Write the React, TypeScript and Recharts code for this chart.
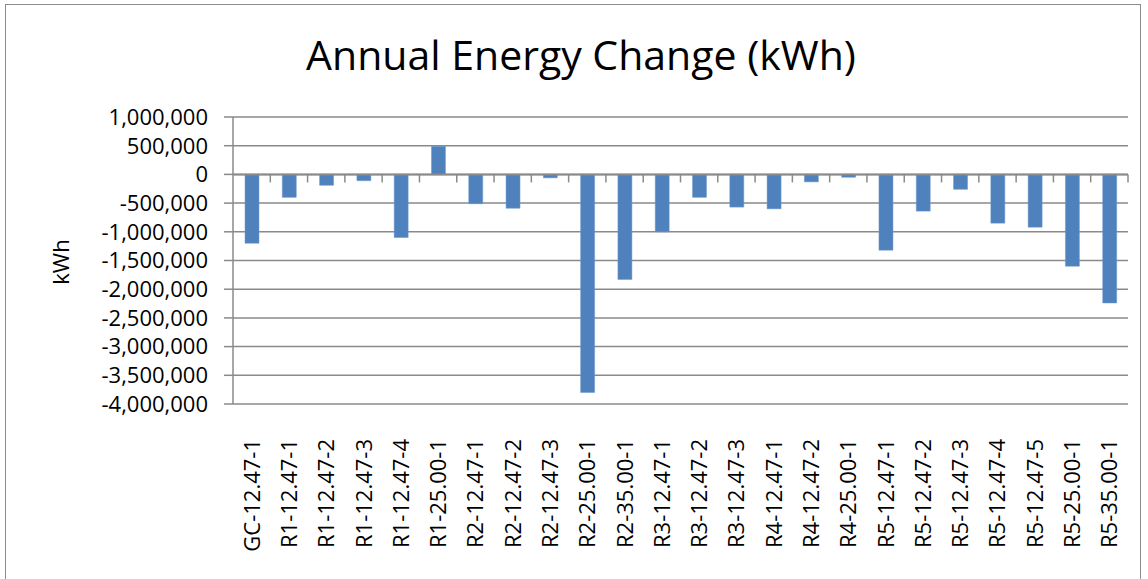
import React from "react";
import { BarChart, Bar, XAxis, YAxis, CartesianGrid, ReferenceLine } from "recharts";

const categories = [
  "GC-12.47-1", "R1-12.47-1", "R1-12.47-2", "R1-12.47-3", "R1-12.47-4", "R1-25.00-1",
  "R2-12.47-1", "R2-12.47-2", "R2-12.47-3", "R2-25.00-1", "R2-35.00-1", "R3-12.47-1",
  "R3-12.47-2", "R3-12.47-3", "R4-12.47-1", "R4-12.47-2", "R4-25.00-1", "R5-12.47-1",
  "R5-12.47-2", "R5-12.47-3", "R5-12.47-4", "R5-12.47-5", "R5-25.00-1", "R5-35.00-1",
];
const energyChange = [
  -1200000, -400000, -190000, -110000, -1100000, 490000,
  -510000, -590000, -60000, -3800000, -1830000, -1000000,
  -400000, -570000, -600000, -130000, -50000, -1320000,
  -640000, -260000, -850000, -920000, -1600000, -2240000,
];
const yTicks = [1000000, 500000, 0, -500000, -1000000, -1500000, -2000000, -2500000, -3000000, -3500000, -4000000];

const data = categories.map((c, i) => ({ name: c, value: energyChange[i] }));

const W = 1148;
const H = 579;
const M = { top: 117, right: 20, bottom: 0, left: 0 };
const Y_W = 233;
const X_H = 175;
const PLOT_W = W - M.left - M.right - Y_W;
const PLOT_H = H - M.top - M.bottom - X_H;
const Y_MAX = 1000000;
const Y_MIN = -4000000;
const ZERO_DY = (PLOT_H * (Y_MAX - 0)) / (Y_MAX - Y_MIN);
const FONT = "'Open Sans', sans-serif";
const GRID = "#8a8a8a";

const fmt = (v: number) => v.toLocaleString("en-US");

const XTick = (props: any) => {
  const { x, y, payload } = props;
  const catW = PLOT_W / categories.length;
  const zeroY = M.top + ZERO_DY;
  return (
    <g>
      <line x1={x + catW / 2} x2={x + catW / 2} y1={zeroY} y2={zeroY + 8} stroke={GRID} strokeWidth={1.5} />
      <text
        x={0}
        y={0}
        transform={`translate(${x + 8},${y + 27}) rotate(-90)`}
        textAnchor="end"
        fontFamily={FONT}
        fontSize={22}
        fill="#000"
      >
        {payload.value}
      </text>
    </g>
  );
};

export default function App() {
  return (
    <div style={{ position: "absolute", left: 0, top: 0, width: W, height: H, background: "#fff" }}>
      <div
        style={{
          position: "absolute",
          left: 5,
          top: 4,
          width: 1136,
          height: 580,
          border: "1.5px solid #8c8c8c",
          boxSizing: "border-box",
        }}
      />
      <div
        style={{
          position: "absolute",
          left: 0,
          top: 28,
          width: 1162,
          textAlign: "center",
          fontFamily: FONT,
          fontSize: 41,
          color: "#000",
          lineHeight: "52px",
        }}
      >
        Annual Energy Change (kWh)
      </div>
      <div
        style={{
          position: "absolute",
          left: 60,
          top: 262,
          transform: "translate(-50%, -50%) rotate(-90deg)",
          fontFamily: FONT,
          fontSize: 22,
          color: "#000",
          whiteSpace: "nowrap",
        }}
      >
        kWh
      </div>
      <div style={{ position: "absolute", left: 0, top: 0 }}>
        <BarChart width={W} height={H} data={data} margin={M}>
          <CartesianGrid vertical={false} stroke={GRID} strokeWidth={1.5} />
          <XAxis
            dataKey="name"
            interval={0}
            height={X_H}
            axisLine={false}
            tickLine={false}
            tick={<XTick />}
          />
          <YAxis
            width={Y_W}
            domain={[Y_MIN, Y_MAX]}
            ticks={yTicks}
            interval={0}
            tickFormatter={fmt}
            axisLine={{ stroke: GRID, strokeWidth: 1.5 }}
            tickLine={{ stroke: GRID, strokeWidth: 1.5 }}
            tickSize={9}
            tickMargin={16}
            tick={{ fontFamily: FONT, fontSize: 22, fill: "#000" }}
          />
          <ReferenceLine y={0} stroke={GRID} strokeWidth={2} />
          <Bar dataKey="value" fill="#4f81bd" stroke="#6f9bd0" strokeWidth={0.5} barSize={14} isAnimationActive={false} />
        </BarChart>
      </div>
    </div>
  );
}
